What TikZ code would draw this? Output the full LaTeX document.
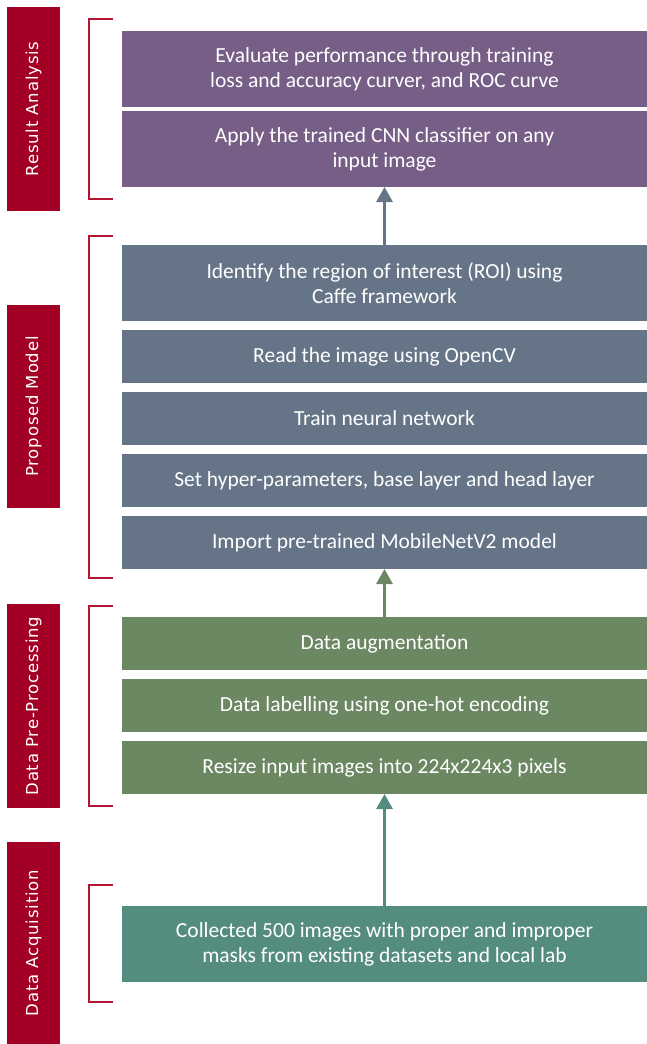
\documentclass[tikz,border=0pt]{standalone}
\usepackage{fontspec}
\setmainfont{Carlito}
\newfontfamily\phasefont[LetterSpace=5]{DejaVu Sans}
\usepackage{tikz}
\usetikzlibrary{arrows.meta, positioning}
\definecolor{result}{RGB}{119,94,135}
\definecolor{model}{RGB}{101,117,135}
\definecolor{prep}{RGB}{108,136,99}
\definecolor{acq}{RGB}{85,140,128}
\definecolor{phase}{RGB}{163,0,38}
\definecolor{brack}{RGB}{178,20,50}

\begin{document}
\begin{tikzpicture}[x=1pt, y=-1pt, node distance=9pt,
    stepbox/.style={rectangle, text=white, minimum width=525pt, inner sep=0pt, outer sep=0pt, align=center, font=\fontsize{21.5}{25}\selectfont},
    tall/.style={minimum height=76pt},
    short/.style={minimum height=53pt},
    phasebox/.style={rectangle, fill=phase, text=white, rotate=90, minimum height=53pt, inner sep=0pt, outer sep=0pt, font=\phasefont\fontsize{16.5}{18}\selectfont},
    upflow/.style={-{Triangle[width=16pt,length=15pt]}, line width=3pt},
    brace/.style={draw=brack, line width=1.2pt}]
    \useasboundingbox (0,0) rectangle (647,1044);

    \node (eval) [stepbox, tall, fill=result] at (384.5,69) {Evaluate performance through training\\loss and accuracy curver, and ROC curve};
    \node (apply) [stepbox, tall, fill=result, below=4pt of eval] {Apply the trained CNN classifier on any\\input image};
    \node (roi) [stepbox, tall, fill=model, below=58pt of apply] {Identify the region of interest (ROI) using\\Caffe framework};
    \node (read) [stepbox, short, fill=model, below=of roi] {Read the image using OpenCV};
    \node (train) [stepbox, short, fill=model, below=of read] {Train neural network};
    \node (hyper) [stepbox, short, fill=model, below=of train] {Set hyper-parameters, base layer and head layer};
    \node (import) [stepbox, short, fill=model, below=of hyper] {Import pre-trained MobileNetV2 model};
    \node (augment) [stepbox, short, fill=prep, below=48pt of import] {Data augmentation};
    \node (label) [stepbox, short, fill=prep, below=of augment] {Data labelling using one-hot encoding};
    \node (resize) [stepbox, short, fill=prep, below=of label] {Resize input images into 224x224x3 pixels};
    \node (collect) [stepbox, tall, fill=acq, below=112pt of resize] {Collected 500 images with proper and improper\\masks from existing datasets and local lab};

    \draw[upflow, model] (roi) -- (apply);
    \draw[upflow, prep] (augment) -- (import);
    \draw[upflow, acq] (collect) -- (resize);

    % phases on the left
    \node (ra) [phasebox, minimum width=204pt] at (33.5,109) {Result Analysis};
    \node (pm) [phasebox, minimum width=203pt] at (33.5,406.5) {Proposed Model};
    \node (dpp) [phasebox, minimum width=204pt] at (33.5,706) {Data Pre-Processing};
    \node (da) [phasebox, minimum width=202pt] at (33.5,943) {Data Acquisition};

    \draw[brace] (113,19) -| (89,199) -- (113,199);
    \draw[brace] (113,236) -| (89,578) -- (113,578);
    \draw[brace] (113,606) -| (89,806) -- (113,806);
    \draw[brace] (113,885) -| (89,1002) -- (113,1002);
\end{tikzpicture}
\end{document}
